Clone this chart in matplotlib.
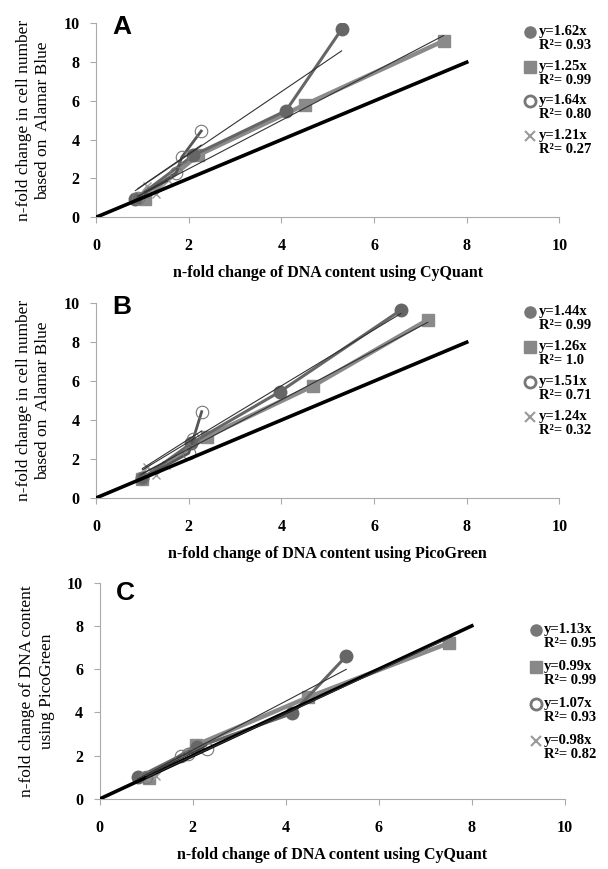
import numpy as np
import matplotlib.pyplot as plt

# panel A: Alamar Blue vs CyQuant
a_circ_x = [0.85, 2.1, 4.1, 5.3]
a_circ_y = [0.95, 3.2, 5.5, 9.7]
a_sq_x = [1.05, 2.2, 4.5, 7.5]
a_sq_y = [0.95, 3.2, 5.8, 9.1]
a_open_x = [0.9, 1.73, 1.85, 2.27]
a_open_y = [1.0, 2.28, 3.1, 4.45]
a_x_x = [0.9, 1.1, 1.3, 1.55]
a_x_y = [1.0, 1.6, 1.2, 1.9]

# panel B: Alamar Blue vs PicoGreen
b_circ_x = [1.0, 2.05, 3.97, 6.58]
b_circ_y = [1.0, 2.8, 5.46, 9.65]
b_sq_x = [1.0, 2.39, 4.68, 7.16]
b_sq_y = [0.95, 3.15, 5.75, 9.15]
b_open_x = [1.0, 2.0, 2.1, 2.28]
b_open_y = [1.0, 2.3, 3.05, 4.43]
b_x_x = [0.95, 1.1, 1.3, 1.5]
b_x_y = [1.05, 1.6, 1.2, 1.7]

# panel C: PicoGreen vs CyQuant
c_circ_x = [0.82, 2.1, 4.14, 5.3]
c_circ_y = [1.0, 2.4, 3.95, 6.6]
c_sq_x = [1.05, 2.08, 4.48, 7.5]
c_sq_y = [0.95, 2.5, 4.7, 7.2]
c_open_x = [1.0, 1.75, 1.9, 2.3]
c_open_y = [1.0, 2.0, 2.1, 2.3]
c_x_x = [1.0, 1.1, 1.2]
c_x_y = [1.0, 1.1, 1.05]

slopes = {'A': [1.62, 1.25, 1.64, 1.21], 'B': [1.44, 1.26, 1.51, 1.24], 'C': [1.13, 0.99, 1.07, 0.98]}
r2 = {'A': ['0.93', '0.99', '0.80', '0.27'], 'B': ['0.99', '1.0', '0.71', '0.32'], 'C': ['0.95', '0.99', '0.93', '0.82']}

serif = 'Liberation Serif'
fig = plt.figure(figsize=(6.08, 8.69), dpi=100)

# name, rect, series..., xlabel, ylabel, legend offset (px), legend step (px), letter y
panels = [
    ('A', [0.158, 0.750, 0.762, 0.223], (a_circ_x, a_circ_y), (a_sq_x, a_sq_y), (a_open_x, a_open_y), (a_x_x, a_x_y),
     'n-fold change of DNA content using CyQuant', 'n-fold change in cell number\nbased on  Alamar Blue', 9, 34.5, 1.045),
    ('B', [0.158, 0.427, 0.762, 0.224], (b_circ_x, b_circ_y), (b_sq_x, b_sq_y), (b_open_x, b_open_y), (b_x_x, b_x_y),
     'n-fold change of DNA content using PicoGreen', 'n-fold change in cell number\nbased on  Alamar Blue', 9, 35, 1.045),
    ('C', [0.164, 0.0806, 0.765, 0.249], (c_circ_x, c_circ_y), (c_sq_x, c_sq_y), (c_open_x, c_open_y), (c_x_x, c_x_y),
     'n-fold change of DNA content using CyQuant', 'n-fold change of DNA content\nusing PicoGreen', 47, 37, 1.005),
]

for name, rect, circ, sq, opn, xs, xlab, ylab, off, step, ltr_y in panels:
    ax = fig.add_axes(rect)
    k = slopes[name]
    # identity line
    ax.plot([0, 8], [0, 8], color='black', lw=2.6, zorder=5)
    # series lines + markers
    ax.plot(sq[0], sq[1], color='#8a8a8a', lw=3.2, marker='s', ms=9, zorder=3)
    ax.plot(circ[0], circ[1], color='#666666', lw=2.2, marker='o', ms=9, zorder=4)
    ax.plot(opn[0], opn[1], color='#555555', lw=2.0, marker='o', ms=9, mfc='none', mec='#777777', mew=0.8, zorder=4)
    ax.plot(xs[0], xs[1], color='#aaaaaa', lw=1.5, marker='x', ms=6, mec='#999999', zorder=3)
    # linear trend lines through origin
    for (sx, sy), kk in zip([circ, sq, opn, xs], k):
        t = np.array([min(sx), max(sx)])
        ax.plot(t, kk * t, color='#333333', lw=0.8, zorder=6)

    ax.set_xlim(0, 10)
    ax.set_ylim(0, 10)
    ax.set_xticks(range(0, 11, 2))
    ax.set_yticks(range(0, 11, 2))
    for s in ['top', 'right']:
        ax.spines[s].set_visible(False)
    for s in ['left', 'bottom']:
        ax.spines[s].set_color('#aaaaaa')
    ax.tick_params(colors='#aaaaaa', length=4, labelcolor='black')
    ax.tick_params(axis='x', pad=11)
    ax.tick_params(axis='y', pad=8)
    for lb in ax.get_xticklabels() + ax.get_yticklabels():
        lb.set_fontfamily(serif)
        lb.set_fontweight('bold')
        lb.set_fontsize(11.5)
    ax.set_xlabel(xlab, fontfamily=serif, fontweight='bold', fontsize=11.5, labelpad=8)
    ax.set_ylabel(ylab, fontfamily=serif, fontsize=12.5, linespacing=1.3)
    ax.yaxis.set_label_coords(-0.097, 0.5)
    ax.text(0.035, ltr_y, name, transform=ax.transAxes, fontfamily='Liberation Sans',
            fontweight='bold', fontsize=19, va='top', ha='left')

    # legend with equations
    ax_h = rect[3] * 869
    mk = [dict(marker='o', color='#777777', ms=8), dict(marker='s', color='#888888', ms=8),
          dict(marker='o', mfc='none', mec='#777777', mew=2, ms=8), dict(marker='x', color='#999999', ms=7, mew=1.5)]
    for i in range(4):
        y0 = 1 - (off + i * step) / ax_h
        ax.plot([0.937], [y0], transform=ax.transAxes, clip_on=False, ls='none', **mk[i])
        ax.text(0.955, y0 + 7 / ax_h, 'y=%.2fx\nR\u00b2= %s' % (k[i], r2[name][i]), transform=ax.transAxes,
                fontfamily=serif, fontweight='bold', fontsize=10.5, va='top', ha='left', linespacing=1.1)

plt.savefig('out.png', dpi=100)
